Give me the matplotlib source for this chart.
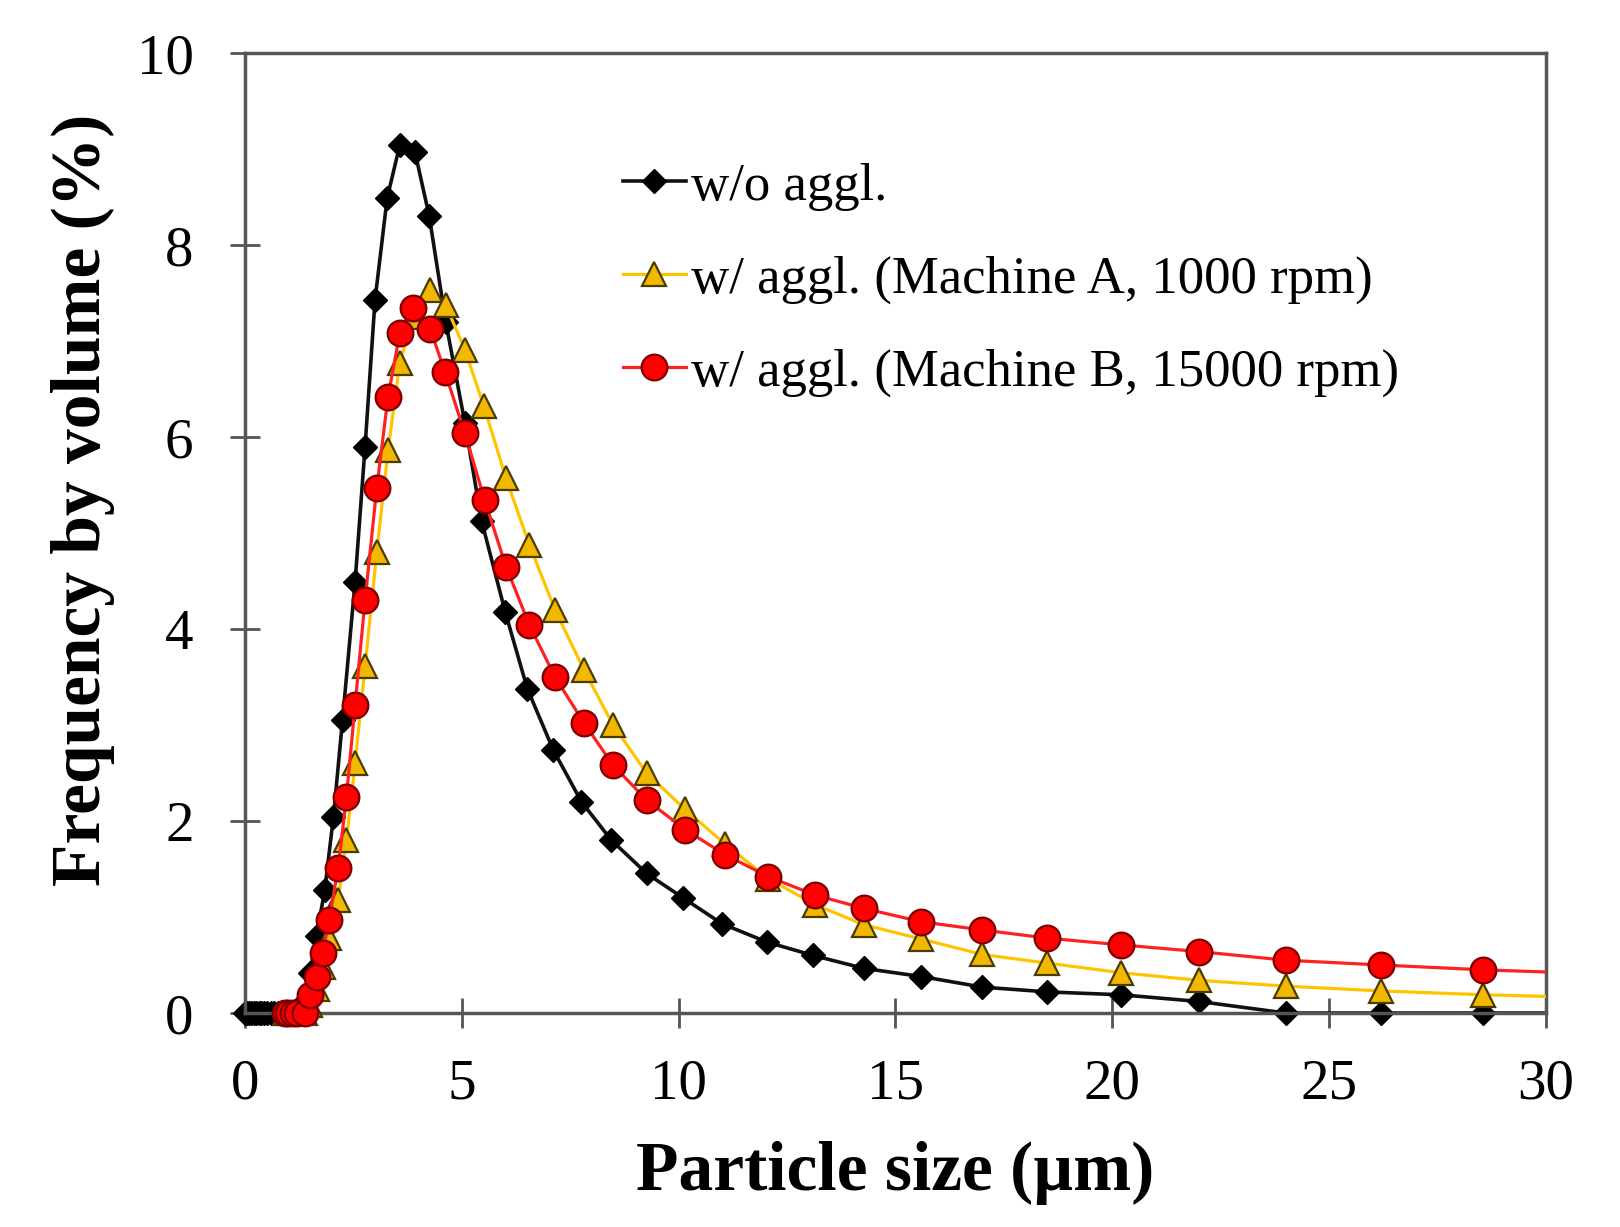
import numpy as np
import matplotlib
matplotlib.use("Agg")
import matplotlib.pyplot as plt
from matplotlib.lines import Line2D

plt.rcParams['font.family'] = ['Liberation Serif', 'DejaVu Serif']

# Particle size (um) and frequency by volume (%)
x_wo = [0.0, 0.05, 0.1, 0.15, 0.2, 0.26, 0.32, 0.38, 0.45, 0.52, 0.6, 0.68, 0.76, 0.85,
        0.95, 1.05, 1.14, 1.24, 1.38, 1.50, 1.65, 1.84, 2.04, 2.25, 2.54, 2.77, 3.0,
        3.28, 3.57, 3.92, 4.25, 4.63, 5.07, 5.46, 6.0, 6.51, 7.11, 7.76, 8.45, 9.26,
        10.1, 11.0, 12.03, 13.1, 14.27, 15.6, 17.0, 18.5, 20.2, 22.0, 24.0, 26.2,
        28.55, 31.1]
y_wo = [0, 0, 0, 0, 0, 0, 0, 0, 0, 0, 0, 0, 0, 0,
        0, 0, 0, 0, 0.12, 0.42, 0.80, 1.28, 2.04, 3.05, 4.49, 5.90, 7.43,
        8.49, 9.04, 8.97, 8.30, 7.20, 6.15, 5.12, 4.18, 3.38, 2.74, 2.20, 1.80, 1.455,
        1.20, 0.93, 0.74, 0.60, 0.465, 0.38, 0.27, 0.22, 0.19, 0.12, 0, 0,
        0, 0]

x_a = [0.92, 1.0, 1.1, 1.2, 1.38, 1.50, 1.65, 1.79, 1.94, 2.15, 2.34, 2.54, 2.77, 3.04,
       3.30, 3.57, 3.88, 4.27, 4.63, 5.07, 5.51, 6.02, 6.56, 7.15, 7.82, 8.49, 9.26,
       10.15, 11.07, 12.07, 13.14, 14.27, 15.6, 17.0, 18.5, 20.2, 22.0, 24.0, 26.2,
       28.55, 31.1]
y_a = [0, 0, 0, 0, 0, 0.08, 0.25, 0.48, 0.78, 1.18, 1.80, 2.60, 3.61, 4.80,
       5.86, 6.77, 7.25, 7.53, 7.375, 6.91, 6.32, 5.57, 4.875, 4.20, 3.57, 3.0, 2.50,
       2.12, 1.76, 1.40, 1.13, 0.92, 0.77, 0.61, 0.52, 0.42, 0.34, 0.28, 0.23,
       0.19, 0.16]

x_b = [0.92, 1.0, 1.1, 1.2, 1.38, 1.50, 1.65, 1.79, 1.94, 2.15, 2.34, 2.54, 2.77, 3.04,
       3.30, 3.57, 3.88, 4.27, 4.61, 5.07, 5.53, 6.02, 6.56, 7.15, 7.82, 8.49, 9.26,
       10.15, 11.07, 12.07, 13.14, 14.27, 15.6, 17.0, 18.5, 20.2, 22.0, 24.0, 26.2,
       28.55, 31.1]
y_b = [0, 0, 0, 0, 0, 0.19, 0.38, 0.62, 0.97, 1.51, 2.25, 3.21, 4.30, 5.47,
       6.42, 7.08, 7.34, 7.13, 6.68, 6.04, 5.34, 4.65, 4.04, 3.50, 3.02, 2.58, 2.22,
       1.91, 1.65, 1.42, 1.23, 1.09, 0.95, 0.865, 0.78, 0.71, 0.64, 0.55, 0.50,
       0.45, 0.41]

labels = ["w/o aggl.",
          "w/ aggl. (Machine A, 1000 rpm)",
          "w/ aggl. (Machine B, 15000 rpm)"]

styles = [
    dict(color="#111111", lw=2.6, marker="D", ms=12, mfc="black", mec="black", mew=1.0),
    dict(color="#FFC400", lw=2.3, marker="^", ms=17, mfc="#F2B800", mec="#4a3c00", mew=1.6),
    dict(color="#FF2020", lw=2.3, marker="o", ms=18.5, mfc="#FF0000", mec="#7a0000", mew=1.6),
]

fig = plt.figure(figsize=(16.2, 12.27), dpi=100)
ax = fig.add_axes([0.1512, 0.1744, 0.8031, 0.7824])

handles = []
series = [(x_wo, y_wo), (x_a, y_a), (x_b, y_b)]
for i, ((xs, ys), st, lab) in enumerate(zip(series, styles, labels)):
    xs = np.array(xs)
    ys = np.array(ys)
    z = 2 + i
    # line is clipped at the frame, markers are not (they sit on the axes at x=0)
    ax.plot(xs, ys, color=st["color"], lw=st["lw"], zorder=z)
    keep = xs <= 30
    ax.plot(xs[keep], ys[keep], ls="none", marker=st["marker"], ms=st["ms"],
            mfc=st["mfc"], mec=st["mec"], mew=st["mew"], clip_on=False, zorder=z + 0.5)
    handles.append(Line2D([], [], color=st["color"], lw=st["lw"], marker=st["marker"],
                          ms=st["ms"], mfc=st["mfc"], mec=st["mec"], mew=st["mew"]))

ax.set_xlim(0, 30)
ax.set_ylim(0, 10)
ax.set_xticks([0, 5, 10, 15, 20, 25, 30])
ax.set_yticks([0, 2, 4, 6, 8, 10])

ax.tick_params(axis="both", direction="inout", length=22, width=2, color="#555555",
               labelsize=41)
ax.tick_params(axis="x", pad=22)
ax.tick_params(axis="y", pad=26)
for sp in ax.spines.values():
    sp.set_color("#555555")
    sp.set_linewidth(2.5)

ax.set_xlabel("Particle size (\u00b5m)", fontsize=50, fontweight="bold", labelpad=22)
ax.set_ylabel("Frequency by volume (%)", fontsize=50, fontweight="bold", labelpad=14)
ax.yaxis.set_label_coords(-0.100, 0.535)

leg = ax.legend(handles, labels, loc="upper left", bbox_to_anchor=(0.27, 0.913),
                frameon=False, fontsize=38, numpoints=1, handlelength=1.2,
                handletextpad=0.1, labelspacing=0.85, borderpad=0)

fig.savefig("out.png", dpi=100)
